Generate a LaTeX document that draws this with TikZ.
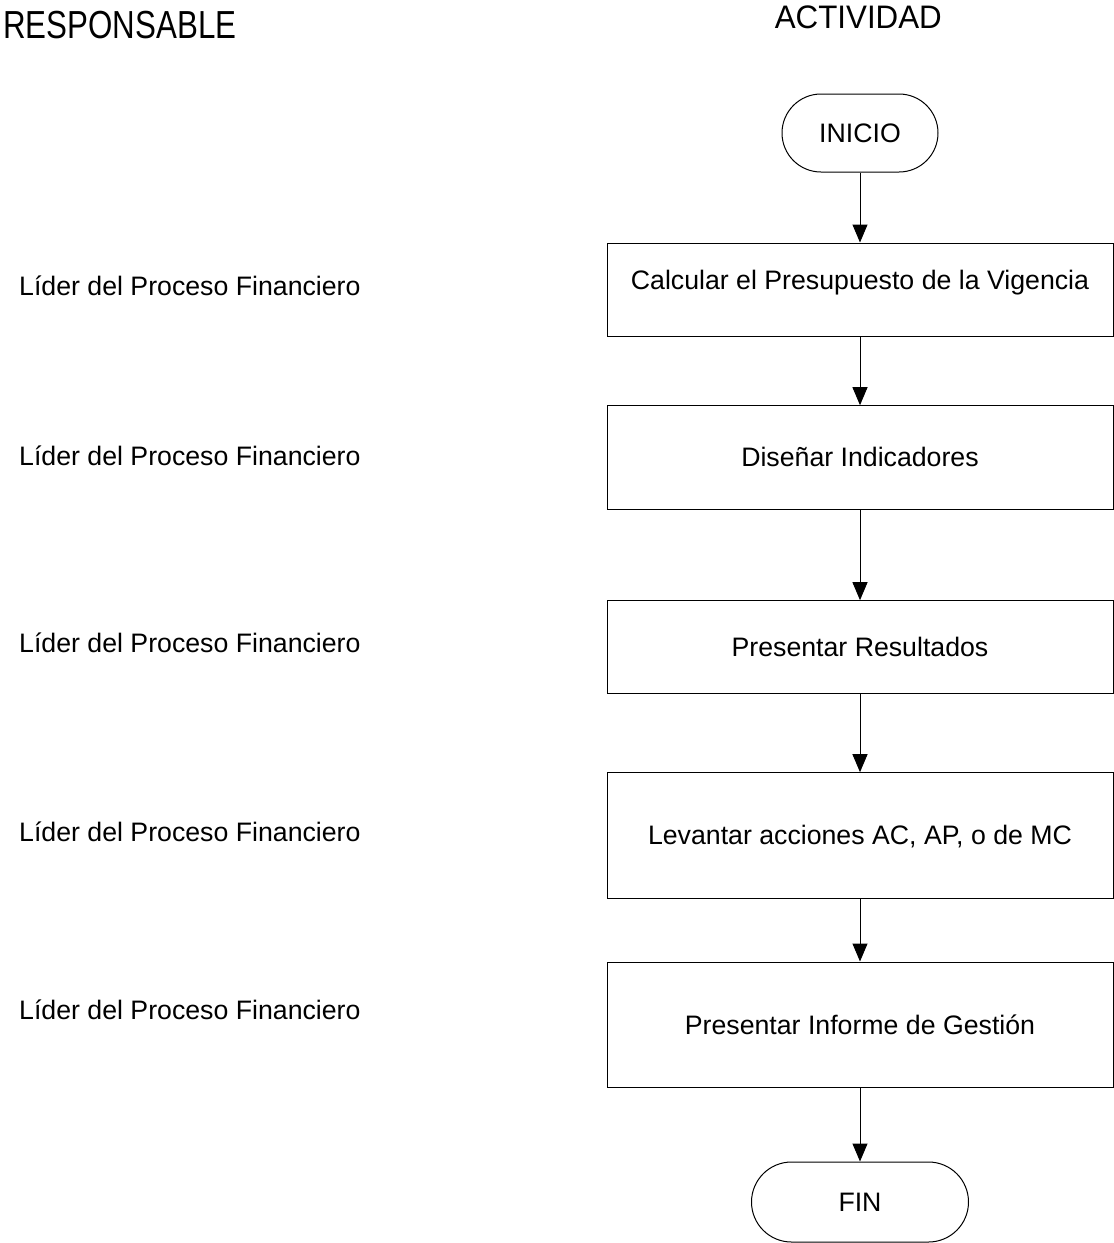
\documentclass[tikz,border=0pt]{standalone}
\usepackage{fontspec}
\setmainfont{Liberation Sans}
\usetikzlibrary{arrows.meta}
\begin{document}
\begin{tikzpicture}[x=1pt,y=-1pt,
  body/.style={font=\fontsize{26.7pt}{32pt}\selectfont, text height=19.1pt, text depth=0pt},
  head/.style={font=\fontsize{31.3pt}{36pt}\selectfont, inner sep=0pt},
  role/.style={body, inner sep=0pt, anchor=west},
  actbox/.style={body, draw, line width=1pt, minimum width=506pt, inner sep=0pt},
  term/.style={body, draw, line width=1pt, inner sep=0pt},
  flow/.style={line width=1pt, -{Triangle[length=18pt,width=15pt]}}
]
\path[use as bounding box] (0,0) rectangle (1114,1243);

\node[head, anchor=base west] (hr) at (3,38.3) {\scalebox{1}[1.25]{RESPONSABLE}};
\node[head, anchor=base] (ha) at (858.3,28.3) {\scalebox{1}[1.04]{ACTIVIDAD}};

\node[term, rounded corners=39pt, minimum width=156pt, minimum height=78pt] (ini) at (860,133) {INICIO};
\node[actbox, minimum height=93pt, text depth=20pt] (a1) at (860,289.5) {Calcular el Presupuesto de la Vigencia};
\node[actbox, minimum height=103.3pt] (a2) at (860,457.35) {Diseñar Indicadores};
\node[actbox, minimum height=92.3pt] (a3) at (860,646.85) {Presentar Resultados};
\node[actbox, minimum height=125.3pt] (a4) at (860,835.35) {Levantar acciones AC, AP, o de MC};
\node[actbox, minimum height=125pt] (a5) at (860,1024.5) {Presentar Informe de Gestión};
\node[term, rounded corners=40pt, minimum width=217pt, minimum height=80pt] (fin) at (860,1202) {FIN};

\node[role] (r1) at (19,286) {Líder del Proceso Financiero};
\node[role] (r2) at (19,456) {Líder del Proceso Financiero};
\node[role] (r3) at (19,643) {Líder del Proceso Financiero};
\node[role] (r4) at (19,832) {Líder del Proceso Financiero};
\node[role] (r5) at (19,1010) {Líder del Proceso Financiero};

\draw[flow] (ini) -- (a1);
\draw[flow] (a1) -- (a2);
\draw[flow] (a2) -- (a3);
\draw[flow] (a3) -- (a4);
\draw[flow] (a4) -- (a5);
\draw[flow] (a5) -- (fin);
\end{tikzpicture}
\end{document}
